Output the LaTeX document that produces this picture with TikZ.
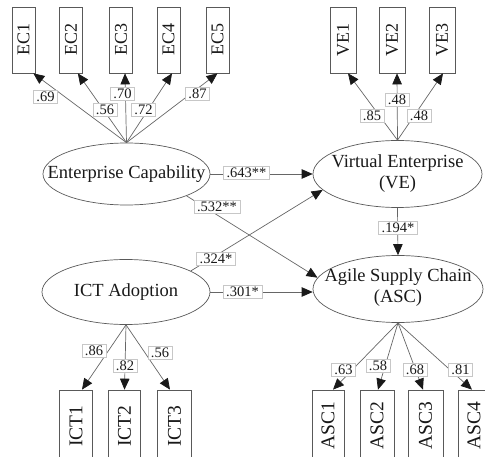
\documentclass[tikz,border=0pt]{standalone}
\usepackage{fontspec}
\setmainfont{Liberation Serif}
\usetikzlibrary{arrows.meta,shapes.geometric}
\begin{document}
\begin{tikzpicture}[x=1pt,y=-1pt,
  ind/.style={draw=black!65, line width=0.7pt, fill=white, inner sep=0pt,
    font=\fontsize{18}{18}\selectfont, text=black!90},
  indb/.style={ind, font=\fontsize{19.5}{19.5}\selectfont},
  lat/.style={ellipse, draw=black!65, line width=0.7pt, inner sep=0pt},
  lattext/.style={align=center, inner sep=0pt, font=\fontsize{18.5}{21}\selectfont, text=black!90},
  pth/.style={draw=black!60, line width=0.7pt, -{Triangle[length=11pt,width=9.5pt,color=black!90]}},
  lbl/.style={fill=white, draw=black!22, line width=0.5pt, inner xsep=3pt, inner ysep=1.5pt,
    font=\fontsize{14.5}{14.5}\selectfont, text=black!90}]
\useasboundingbox (0,0) rectangle (485,457);

% indicator boxes
\node[ind, minimum width=23, minimum height=66] (ec1) at (23.5,40) {\rotatebox{90}{EC1}};
\node[ind, minimum width=23, minimum height=66] (ec2) at (71,40) {\rotatebox{90}{EC2}};
\node[ind, minimum width=23, minimum height=66] (ec3) at (121,40) {\rotatebox{90}{EC3}};
\node[ind, minimum width=23, minimum height=66] (ec4) at (168.5,40) {\rotatebox{90}{EC4}};
\node[ind, minimum width=23, minimum height=66] (ec5) at (217.5,40) {\rotatebox{90}{EC5}};

\node[ind, minimum width=26, minimum height=66] (ve1) at (343,40) {\rotatebox{90}{VE1}};
\node[ind, minimum width=26, minimum height=66] (ve2) at (392,40) {\rotatebox{90}{VE2}};
\node[ind, minimum width=26, minimum height=66] (ve3) at (442,40) {\rotatebox{90}{VE3}};

\node[indb, minimum width=33, minimum height=72] (ict1) at (76,426) {\rotatebox{90}{ICT1}};
\node[indb, minimum width=32, minimum height=72] (ict2) at (124.5,426) {\rotatebox{90}{ICT2}};
\node[indb, minimum width=34, minimum height=72] (ict3) at (174.5,426) {\rotatebox{90}{ICT3}};

\node[indb, minimum width=32, minimum height=72] (asc1) at (328,426) {\rotatebox{90}{ASC1}};
\node[indb, minimum width=34, minimum height=72] (asc2) at (377,426) {\rotatebox{90}{ASC2}};
\node[indb, minimum width=35, minimum height=72] (asc3) at (425.5,426) {\rotatebox{90}{ASC3}};
\node[indb, minimum width=32, minimum height=72] (asc4) at (474,426) {\rotatebox{90}{ASC4}};

% latent variables
\node[lat, minimum width=167, minimum height=62] (ec) at (126.5,174) {};
\node[lattext] (ect) at (ec) {Enterprise Capability};
\node[lat, minimum width=169, minimum height=67] (ve) at (397.5,174) {};
\node[lattext] (vet) at (ve) {Virtual Enterprise\\(VE)};
\node[lat, minimum width=168, minimum height=65] (ict) at (126,292) {};
\node[lattext] (ictt) at (ict) {ICT Adoption};
\node[lat, minimum width=170, minimum height=67] (asc) at (398,289) {};
\node[lattext] (asct) at ([yshift=1]asc) {Agile Supply Chain\\(ASC)};

% loadings
\draw[pth] (ec.north) -- ([xshift=-2]ec1.south east);
\draw[pth] (ec.north) -- ([xshift=-5]ec2.south east);
\draw[pth] (ec.north) -- ([xshift=4]ec3.south);
\draw[pth] (ec.north) -- ([xshift=3.5]ec4.south);
\draw[pth] (ec.north) -- (ec5.south);

\draw[pth] (ve.north) -- ([xshift=5]ve1.south);
\draw[pth] (ve.north) -- ([xshift=5]ve2.south);
\draw[pth] (ve.north) -- ([xshift=1]ve3.south);

\draw[pth] (ict.south) -- ([xshift=6]ict1.north);
\draw[pth] (ict.south) -- (ict2.north);
\draw[pth] (ict.south) -- ([xshift=-4.5]ict3.north);

\draw[pth] (asc.south) -- ([xshift=5]asc1.north);
\draw[pth] (asc.south) -- ([xshift=1]asc2.north);
\draw[pth] (asc.south) -- ([xshift=-2.5]asc3.north);
\draw[pth] (asc.south) -- ([xshift=-2]asc4.north);

% structural paths
\draw[pth] (ec.east) -- (ec.east -| ve.west);
\draw[pth] (ec.-20) -- (asc.172);
\draw[pth] (ict.18) -- (ve.192);
\draw[pth] (ict.east) -- (ict.east -| asc.west);
\draw[pth] (ve.south) -- (asc.north);

% labels
\node[lbl] (l1) at (45.5,96.5) {.69};
\node[lbl] (l2) at (105,110) {.56};
\node[lbl] (l3) at (122.5,93.5) {.70};
\node[lbl] (l4) at (143.5,110) {.72};
\node[lbl] (l5) at (197.5,93.5) {.87};

\node[lbl] (l6) at (372,115.5) {.85};
\node[lbl] (l7) at (397,100) {.48};
\node[lbl] (l8) at (419,115.5) {.48};

\node[lbl] (l9) at (94,350.5) {.86};
\node[lbl] (l10) at (125,365.5) {.82};
\node[lbl] (l11) at (160,352.5) {.56};

\node[lbl] (l12) at (343.5,369.5) {.63};
\node[lbl] (l13) at (378,365.5) {.58};
\node[lbl] (l14) at (415,369.5) {.68};
\node[lbl] (l15) at (460.5,369.5) {.81};

\node[lbl] (l16) at (246.5,172.5) {.643**};
\node[lbl] (l17) at (217,206.5) {.532**};
\node[lbl] (l18) at (216,259) {.324*};
\node[lbl] (l19) at (242.5,291.5) {.301*};
\node[lbl] (l20) at (398,228) {.194*};
\end{tikzpicture}
\end{document}
